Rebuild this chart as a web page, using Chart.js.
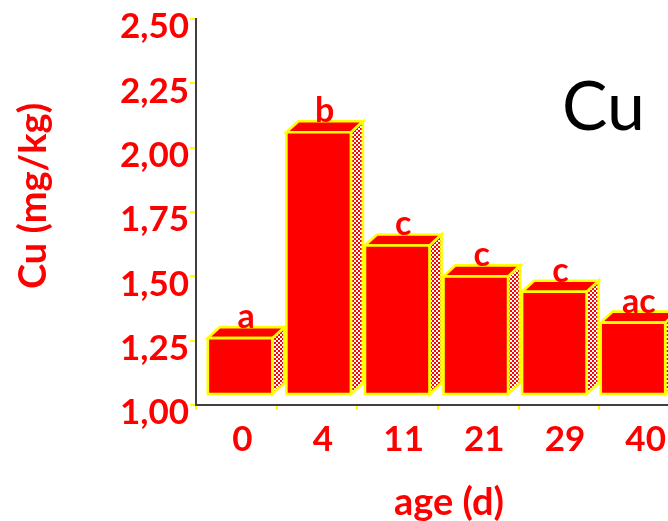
<!DOCTYPE html>
<html>
<head>
<meta charset="utf-8">
<script src="https://cdn.jsdelivr.net/npm/chart.js@4.4.1/dist/chart.umd.min.js"></script>
<style>
    html, body { margin: 0; padding: 0; background: #fff; overflow: hidden; }
    canvas { display: block; }
</style>
</head>
<body>
<canvas id="cuChart" width="700" height="521"></canvas>
<script>
// data
const ages = ['0', '4', '11', '21', '29', '40'];
const cuValues = [1.26, 2.06, 1.62, 1.50, 1.44, 1.32];
const sigLetters = ['a', 'b', 'c', 'c', 'c', 'ac'];
const yTicks = [1.00, 1.25, 1.50, 1.75, 2.00, 2.25, 2.50];

const RED = '#FF0000';
const YELLOW = '#FFFF00';
const AXIS = '#404040';

// checkered side faces
const patCanvas = document.createElement('canvas');
patCanvas.width = 4;
patCanvas.height = 4;
const pctx = patCanvas.getContext('2d');
pctx.fillStyle = '#fff';
pctx.fillRect(0, 0, 4, 4);
pctx.fillStyle = RED;
pctx.fillRect(0, 0, 2, 2);
pctx.fillRect(2, 2, 2, 2);

function poly(ctx, pts, fill) {
    ctx.beginPath();
    ctx.moveTo(pts[0][0], pts[0][1]);
    for (let i = 1; i < pts.length; i++) ctx.lineTo(pts[i][0], pts[i][1]);
    ctx.closePath();
    ctx.fillStyle = fill;
    ctx.fill();
    ctx.stroke();
}

const bars3d = {
    id: 'bars3d',
    afterDatasetsDraw(chart) {
        const ctx = chart.ctx;
        const area = chart.chartArea;
        const yScale = chart.scales.y;
        const meta = chart.getDatasetMeta(0);
        const pattern = ctx.createPattern(patCanvas, 'repeat');
        const dx = 12, dy = 11, lift = 11;
        const floor = yScale.getPixelForValue(yTicks[0]) - lift;
        ctx.save();
        ctx.strokeStyle = YELLOW;
        ctx.lineWidth = 2.6;
        ctx.lineJoin = 'miter';
        meta.data.forEach(function(bar, i) {
            // slight perspective squeeze of the bar row
            const cx = area.left + (bar.x - area.left) * 0.974 + 4.8;
            const hw = bar.width / 2;
            const L = cx - hw, R = cx + hw;
            const top = yScale.getPixelForValue(cuValues[i]);
            poly(ctx, [[R, top], [R + dx, top - dy], [R + dx, floor - dy], [R, floor]], pattern);
            poly(ctx, [[L, top], [L + dx, top - dy], [R + dx, top - dy], [R, top]], RED);
            poly(ctx, [[L, top], [R, top], [R, floor], [L, floor]], RED);

            ctx.fillStyle = RED;
            ctx.font = 'bold 34px Lato';
            ctx.textAlign = 'center';
            ctx.textBaseline = 'alphabetic';
            ctx.fillText(sigLetters[i], cx + dx / 2, top - dy + 1);
        });
        ctx.restore();
    },
    afterDraw(chart) {
        const ctx = chart.ctx;
        ctx.save();
        ctx.fillStyle = RED;
        ctx.font = 'bold 38px Lato';
        ctx.textAlign = 'center';
        ctx.textBaseline = 'middle';
        ctx.fillText('age (d)', 449, 503);
        ctx.translate(34, 196);
        ctx.rotate(-Math.PI / 2);
        ctx.fillText('Cu (mg/kg)', 0, 0);
        ctx.restore();

        ctx.save();
        ctx.fillStyle = '#000';
        ctx.font = '68px Lato';
        ctx.textAlign = 'left';
        ctx.textBaseline = 'alphabetic';
        ctx.fillText('Cu', 562, 130);
        ctx.restore();
    }
};

const ctx = document.getElementById('cuChart');
const cuChart = new Chart(ctx, {
    type: 'bar',
    data: {
        labels: ages,
        datasets: [{
            data: cuValues,
            backgroundColor: 'rgba(0,0,0,0)',
            borderWidth: 0,
            barPercentage: 0.8,
            categoryPercentage: 1
        }]
    },
    options: {
        responsive: false,
        animation: false,
        devicePixelRatio: 1,
        layout: {
            padding: { top: 19, right: 20, left: 0, bottom: 0 }
        },
        scales: {
            x: {
                afterFit: function(scale) { scale.height = 116; },
                grid: {
                    drawOnChartArea: false,
                    offset: true,
                    color: YELLOW,
                    tickLength: 5,
                    lineWidth: 2
                },
                border: { display: true, color: AXIS, width: 2 },
                ticks: {
                    color: RED,
                    font: { family: 'Lato', size: 35, weight: 'bold', lineHeight: 1 },
                    padding: 12,
                    labelOffset: 6,
                    maxRotation: 0
                }
            },
            y: {
                beginAtZero: false,
                min: yTicks[0],
                max: yTicks[yTicks.length - 1],
                afterFit: function(scale) { scale.width = 196; },
                grid: {
                    drawOnChartArea: false,
                    color: YELLOW,
                    tickLength: 6,
                    lineWidth: 2
                },
                border: { display: true, color: AXIS, width: 2 },
                ticks: {
                    stepSize: 0.125,
                    color: RED,
                    font: { family: 'Lato', size: 35, weight: 'bold', lineHeight: 1 },
                    padding: 1,
                    labelOffset: 8,
                    callback: function(value) {
                        const hit = yTicks.find(function(t) { return Math.abs(t - value) < 1e-6; });
                        return hit === undefined ? '' : hit.toFixed(2).replace('.', ',');
                    }
                }
            }
        },
        plugins: {
            legend: { display: false },
            tooltip: { enabled: false }
        }
    },
    plugins: [bars3d]
});
</script>
</body>
</html>
